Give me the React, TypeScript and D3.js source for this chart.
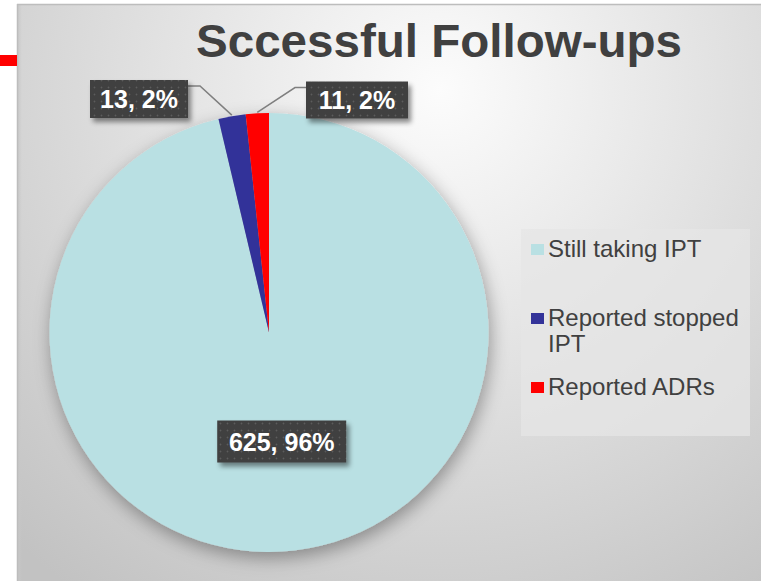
import React from "react";
import * as d3 from "d3";

const categories = ["Still taking IPT", "Reported stopped IPT", "Reported ADRs"];
const legendLines = [["Still taking IPT"], ["Reported stopped", "IPT"], ["Reported ADRs"]];
const values = [625, 13, 11];
const percentLabels = ["96%", "2%", "2%"];
const colors = ["#b9e0e3", "#333399", "#ff0000"];
const titleText = "Sccessful Follow-ups";

const W = 761;
const H = 581;
const cx = 269;
const cy = 332.5;
const R = 219.5;

export default function App() {
  const pie = d3.pie<number>().sort(null).value((d) => d)(values);
  const arc = d3.arc<d3.PieArcDatum<number>>().innerRadius(0).outerRadius(R);
  const pointAt = (a: number, r: number) => [cx + r * Math.sin(a), cy - r * Math.cos(a)];

  const c0 = arc.centroid(pie[0]);
  const boxes = [
    { c: [cx + c0[0], cy + c0[1]], w: 129, h: 42 },
    { c: [139, 99], w: 98, h: 38 },
    { c: [357, 100], w: 102, h: 37 },
  ];

  const legendY = [249, 318, 387];

  return (
    <svg
      width={W}
      height={H}
      style={{ position: "absolute", left: 0, top: 0 }}
      fontFamily="'Liberation Sans', Arial, sans-serif"
    >
      <defs>
        <radialGradient id="bg" gradientUnits="userSpaceOnUse" cx={440} cy={90} r={620}>
          <stop offset="0" stopColor="#fcfcfc" />
          <stop offset="0.45" stopColor="#e2e2e2" />
          <stop offset="1" stopColor="#c2c2c2" />
        </radialGradient>
        <linearGradient id="edge" x1="0" x2="1" y1="0" y2="0">
          <stop offset="0" stopColor="#c8c8c8" />
          <stop offset="1" stopColor="#c8c8c8" stopOpacity={0} />
        </linearGradient>
        <pattern id="dots" width={7} height={7} patternUnits="userSpaceOnUse">
          <rect width={7} height={7} fill="#3f3f3f" />
          <circle cx={3.5} cy={3.5} r={0.9} fill="#5c5c5c" />
        </pattern>
        <filter id="pieShadow" x="-20%" y="-20%" width="140%" height="140%">
          <feDropShadow dx={2} dy={6} stdDeviation={9} floodColor="#000" floodOpacity={0.35} />
        </filter>
        <filter id="boxShadow" x="-20%" y="-30%" width="150%" height="170%">
          <feDropShadow dx={3} dy={4} stdDeviation={2.5} floodColor="#000" floodOpacity={0.45} />
        </filter>
      </defs>

      <rect x={0} y={0} width={W} height={H} fill="#ffffff" />
      <rect x={17} y={4} width={W - 17} height={H - 4} fill="url(#bg)" />
      <rect x={17} y={4} width={5} height={H - 4} fill="url(#edge)" />
      <line x1={17} y1={4.5} x2={W} y2={4.5} stroke="#bdbdbd" strokeWidth={1.5} />
      <line x1={17.5} y1={4} x2={17.5} y2={H} stroke="#bdbdbd" strokeWidth={1.5} />
      <rect x={0} y={55} width={17} height={11} fill="#ff0000" />

      <text
        x={439}
        y={57}
        textAnchor="middle"
        fontSize={46}
        fontWeight="bold"
        fill="#404040"
        textLength={486}
        lengthAdjust="spacingAndGlyphs"
      >
        {titleText}
      </text>

      <g filter="url(#pieShadow)" transform={`translate(${cx},${cy})`}>
        {pie.map((p, i) => (
          <path key={i} d={arc(p) || ""} fill={colors[i]} />
        ))}
      </g>

      {[1, 2].map((i) => {
        const mid = (pie[i].startAngle + pie[i].endAngle) / 2;
        const [px, py] = pointAt(mid, R + 1);
        const b = boxes[i];
        const left = b.c[0] < px;
        const ex = left ? b.c[0] + b.w / 2 : b.c[0] - b.w / 2;
        const ey = b.c[1] - b.h / 2 + 6;
        const kx = left ? ex + 12 : ex - 11;
        return (
          <polyline
            key={i}
            points={`${ex},${ey} ${kx},${ey} ${px},${py}`}
            fill="none"
            stroke="#7f7f7f"
            strokeWidth={1.5}
          />
        );
      })}

      {boxes.map((b, i) => (
        <g key={i}>
          <rect
            x={b.c[0] - b.w / 2}
            y={b.c[1] - b.h / 2}
            width={b.w}
            height={b.h}
            fill="url(#dots)"
            filter="url(#boxShadow)"
          />
          <text
            x={b.c[0]}
            y={b.c[1] + 9}
            textAnchor="middle"
            fontSize={25}
            fontWeight="bold"
            fill="#ffffff"
          >
            {`${values[i]}, ${percentLabels[i]}`}
          </text>
        </g>
      ))}

      <rect x={521} y={229} width={229} height={207} fill="#e6e6e6" fillOpacity={0.75} />
      {categories.map((c, i) => (
        <g key={c}>
          <rect x={531} y={legendY[i] - 5} width={13} height={11} fill={colors[i]} />
          {legendLines[i].map((ln, j) => (
            <text key={j} x={548} y={legendY[i] + 8 + j * 26} fontSize={24} fill="#404040">
              {ln}
            </text>
          ))}
        </g>
      ))}
    </svg>
  );
}
